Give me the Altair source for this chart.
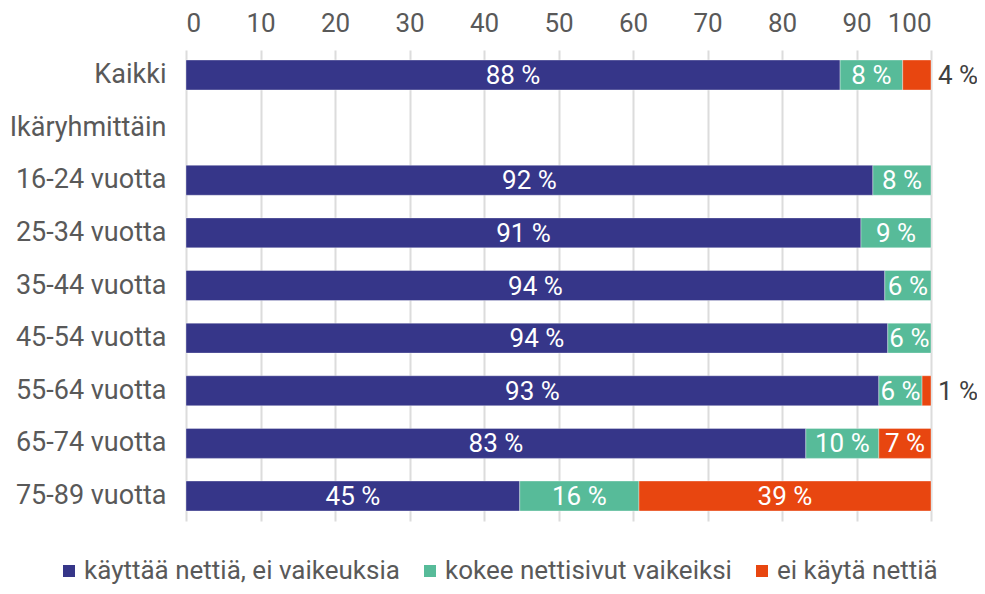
import altair as alt
import pandas as pd

categories = ["Kaikki", "Ikäryhmittäin", "16-24 vuotta", "25-34 vuotta", "35-44 vuotta",
              "45-54 vuotta", "55-64 vuotta", "65-74 vuotta", "75-89 vuotta"]
series = ["käyttää nettiä, ei vaikeuksia", "kokee nettisivut vaikeiksi", "ei käytä nettiä"]
colors = ["#363689", "#57BB99", "#E84610"]

uses_ok = [87.8, None, 92.2, 90.6, 93.8, 94.2, 93.0, 83.2, 44.8]
difficult = [8.4, None, 7.8, 9.4, 6.2, 5.8, 5.8, 9.8, 16.0]
no_use = [3.8, None, 0.0, 0.0, 0.0, 0.0, 1.2, 7.0, 39.2]

rows = []
for i, cat in enumerate(categories):
    vals = [uses_ok[i], difficult[i], no_use[i]]
    if vals[0] is None:
        continue
    start = 0.0
    for s, v in zip(series, vals):
        end = start + v
        if v > 0:
            rows.append({
                "cat": cat, "series": s, "start": start, "end": end,
                "mid": (start + end) / 2, "label": f"{round(v)} %",
                "inside": v >= 5,
            })
        start = end
df = pd.DataFrame(rows)

FONT = "Roboto"
LABEL_COLOR = "#595959"

base = alt.Chart(df)

y_enc = alt.Y("cat:N", sort=categories,
              scale=alt.Scale(domain=categories, paddingInner=0.43, paddingOuter=0.19),
              axis=alt.Axis(title=None, ticks=False, domain=False, labelPadding=20,
                            labelFont=FONT, labelFontSize=27, labelColor=LABEL_COLOR))

bars = base.mark_bar(stroke="#ffffff", strokeOpacity=0.35, strokeWidth=1).encode(
    x=alt.X("start:Q", scale=alt.Scale(domain=[0, 100], nice=False),
            axis=alt.Axis(orient="top", title=None, values=list(range(0, 101, 10)),
                          ticks=False, domain=False, grid=True, gridColor="#dcdcdc",
                          gridWidth=2, labelPadding=14, labelFont=FONT,
                          labelFontSize=26, labelColor=LABEL_COLOR)),
    x2="end:Q",
    y=y_enc,
    color=alt.Color("series:N", scale=alt.Scale(domain=series, range=colors),
                    legend=alt.Legend(title=None, orient="none", direction="horizontal",
                                      legendX=-130, legendY=508,
                                      symbolType="square", symbolSize=144,
                                      symbolStrokeWidth=0, symbolOpacity=1,
                                      labelFont=FONT, labelFontSize=26,
                                      labelColor=LABEL_COLOR, labelLimit=500,
                                      columnPadding=17, symbolOffset=0, labelOffset=2,
                                      padding=0)),
)

inside = base.transform_filter("datum.inside").mark_text(
    color="white", font=FONT, fontSize=26, align="center", baseline="middle", dy=1
).encode(x="mid:Q", y=alt.Y("cat:N", sort=categories), text="label:N")

outside = base.transform_filter("!datum.inside").mark_text(
    color="#404040", font=FONT, fontSize=26, align="left", baseline="middle", dx=7, dy=1
).encode(x="end:Q", y=alt.Y("cat:N", sort=categories), text="label:N")

chart = (bars + inside + outside).properties(
    width=745, height=471,
    autosize=alt.AutoSizeParams(type="none"),
    padding={"left": 178, "top": 42, "right": 46, "bottom": 65},
).configure_view(stroke=None)

chart.save("out.html", embed_options={"renderer": "svg", "actions": False})
